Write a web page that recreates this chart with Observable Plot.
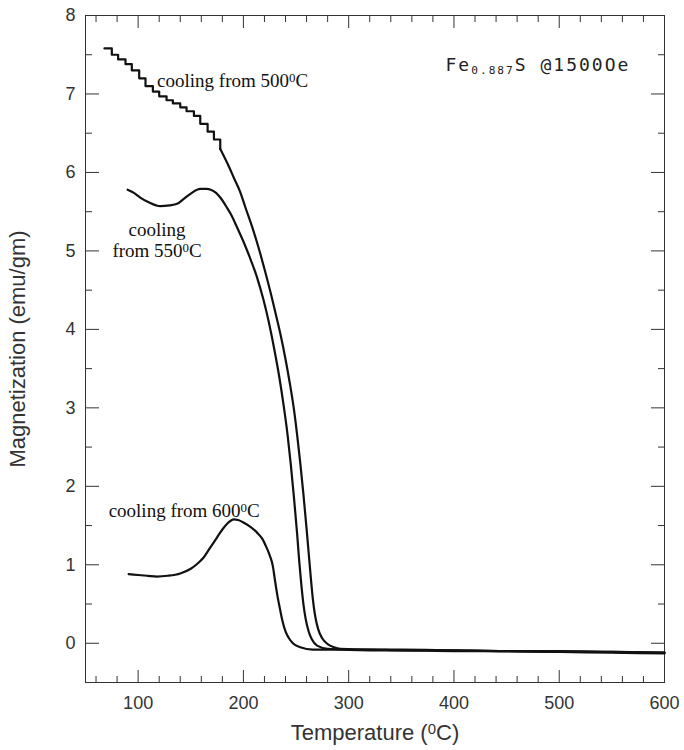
<!DOCTYPE html>
<html><head><meta charset="utf-8">
<script src="https://cdn.jsdelivr.net/npm/d3@7"></script>
<script src="https://cdn.jsdelivr.net/npm/@observablehq/plot@0.6"></script>
<style>html,body{margin:0;padding:0;background:#fff}</style>
</head><body><div id="chart"></div>
<script>
// ---- data ----
// cooling from 500 C : stepped upper section
const temp500Steps = [68,75,81,88,94,101,107,114,120,127,133,140,146,153,159,166,172,178];
const mag500Steps  = [7.58,7.50,7.44,7.38,7.30,7.20,7.10,7.03,6.97,6.92,6.88,6.83,6.78,6.72,6.62,6.52,6.42,6.30];
// cooling from 500 C : smooth lower section
const temp500 = [178,185,191,197,202,208,214,220,226,231,235,240,244,248,251,254,257,260,262,264,266,268,271,275,280,286,292,320,350,400,450,500,550,600];
const mag500  = [6.30,6.11,5.93,5.75,5.55,5.32,5.06,4.77,4.46,4.18,3.95,3.62,3.32,2.98,2.66,2.30,1.90,1.46,1.15,0.84,0.56,0.36,0.18,0.06,-0.01,-0.05,-0.07,-0.08,-0.08,-0.09,-0.10,-0.10,-0.11,-0.12];
// cooling from 550 C
const temp550 = [90,96,102,110,121,130,137,144,150,159,165,169,174,178,184,188,194,200,206,213,219,224,229,234,238,242,245,248,251,253,255,257,259,262,265,270,280,320,350,400,450,500,550,600];
const mag550  = [5.78,5.74,5.68,5.62,5.57,5.58,5.60,5.67,5.73,5.79,5.79,5.78,5.74,5.68,5.56,5.47,5.30,5.12,4.92,4.66,4.38,4.10,3.77,3.40,3.05,2.65,2.28,1.86,1.40,1.05,0.75,0.50,0.32,0.15,0.05,-0.03,-0.07,-0.09,-0.09,-0.10,-0.10,-0.11,-0.12,-0.13];
// cooling from 600 C
const temp600 = [91,100,109,118,128,140,150,156,162,168,175,180,185,191,195,200,207,213,218,221,225,228,230,232,235,237,240,243,247,254,266,290,320,350,400,450,500,550,600];
const mag600  = [0.88,0.87,0.86,0.85,0.86,0.89,0.95,1.01,1.09,1.21,1.35,1.45,1.53,1.58,1.57,1.54,1.48,1.41,1.33,1.25,1.12,0.98,0.80,0.63,0.42,0.29,0.15,0.07,0.00,-0.05,-0.08,-0.08,-0.08,-0.09,-0.09,-0.10,-0.11,-0.11,-0.12];

// annotations
const curveLabels = ["cooling from 500⁰C", "cooling from 600⁰C"];
const curveLabelT = [118, 72];
const curveLabelM = [7.17, 1.69];
const centredLabels = ["cooling", "from 550⁰C"];
const centredLabelT = [118, 118];
const centredLabelM = [5.27, 5.00];
const sampleLabel = ["Fe₀.₈₈₇S @1500Oe"];
const sampleLabelT = [392];
const sampleLabelM = [7.36];

// axes
const xMajorTicks = [100,200,300,400,500,600];
const xMinorTicks = [60,80,120,140,160,180,220,240,260,280,320,340,360,380,420,440,460,480,520,540,560,580];
const yMajorTicks = [0,1,2,3,4,5,6,7,8];
const yMinorTicks = [0.5,1.5,2.5,3.5,4.5,5.5,6.5,7.5];
const xLabel = "Temperature (⁰C)";
const yLabel = "Magnetization (emu/gm)";

// ---- chart ----
const ink = "#111";
const idx = a => Array.from(a, (_, i) => i);
const tickOnly = {tickFormat: () => "", label: null, stroke: "#333"};

const chart = Plot.plot({
  width: 684, height: 750,
  marginLeft: 85, marginRight: 20, marginTop: 15, marginBottom: 68,
  x: {domain: [50, 600]},
  y: {domain: [-0.5, 8]},
  style: {fontFamily: "'Liberation Sans', Arial, sans-serif", fontSize: "18px", color: "#333", background: "#fff", overflow: "visible"},
  marks: [
    Plot.frame({stroke: "#333", strokeWidth: 1}),
    // tick labels + axis titles
    Plot.axisX({ticks: xMajorTicks, anchor: "bottom", tickSize: 0, tickPadding: 14, fontSize: 18, fill: "#333", label: null}),
    Plot.axisX({ticks: [], anchor: "bottom", tickSize: 0, fontSize: 22, fill: "#333",
      label: xLabel, labelAnchor: "center", labelArrow: "none", labelOffset: 57}),
    Plot.axisY({ticks: yMajorTicks, anchor: "left", tickSize: 0, tickPadding: 10, fontSize: 18, fill: "#333", label: null}),
    Plot.axisY({ticks: [], anchor: "left", tickSize: 0, fontSize: 22, fill: "#333",
      label: yLabel, labelAnchor: "center", labelArrow: "none", labelOffset: 76}),
    // inward ticks on all four sides
    Plot.axisX({ticks: xMajorTicks, anchor: "bottom", tickSize: -12, ...tickOnly}),
    Plot.axisX({ticks: xMinorTicks, anchor: "bottom", tickSize: -6, ...tickOnly}),
    Plot.axisX({ticks: xMajorTicks, anchor: "top", tickSize: -12, ...tickOnly}),
    Plot.axisX({ticks: xMinorTicks, anchor: "top", tickSize: -6, ...tickOnly}),
    Plot.axisY({ticks: yMajorTicks, anchor: "left", tickSize: -14, ...tickOnly}),
    Plot.axisY({ticks: yMinorTicks, anchor: "left", tickSize: -7, ...tickOnly}),
    Plot.axisY({ticks: yMajorTicks, anchor: "right", tickSize: -14, ...tickOnly}),
    Plot.axisY({ticks: yMinorTicks, anchor: "right", tickSize: -7, ...tickOnly}),
    // curves
    Plot.line(idx(temp500Steps), {x: temp500Steps, y: mag500Steps, curve: "step-after", stroke: ink, strokeWidth: 2.2}),
    Plot.line(idx(temp500), {x: temp500, y: mag500, curve: "monotone-x", stroke: ink, strokeWidth: 2.2}),
    Plot.line(idx(temp550), {x: temp550, y: mag550, curve: "monotone-x", stroke: ink, strokeWidth: 2.2}),
    Plot.line(idx(temp600), {x: temp600, y: mag600, curve: "monotone-x", stroke: ink, strokeWidth: 2.2}),
    // annotations
    Plot.text(curveLabels, {x: curveLabelT, y: curveLabelM, text: d => d, textAnchor: "start",
      fontFamily: "'Liberation Serif', 'Times New Roman', serif", fontSize: 19, fill: ink}),
    Plot.text(centredLabels, {x: centredLabelT, y: centredLabelM, text: d => d, textAnchor: "middle",
      fontFamily: "'Liberation Serif', 'Times New Roman', serif", fontSize: 19, fill: ink}),
    Plot.text(sampleLabel, {x: sampleLabelT, y: sampleLabelM, text: d => d, textAnchor: "start",
      fontFamily: "'DejaVu Sans Mono', 'Liberation Mono', monospace", fontSize: 18, fill: "#222"})
  ]
});

// turn ⁰ into a raised "0" and subscript digits into lowered digits
function richText(svg) {
  const walker = document.createTreeWalker(svg, NodeFilter.SHOW_TEXT);
  const nodes = [];
  while (walker.nextNode()) nodes.push(walker.currentNode);
  const subMap = {"₀":"0","₁":"1","₂":"2","₃":"3","₄":"4","₅":"5","₆":"6","₇":"7","₈":"8","₉":"9",".":"."};
  const ns = "http://www.w3.org/2000/svg";
  for (const node of nodes) {
    const s = node.nodeValue;
    if (!/[⁰₀-₉]/.test(s)) continue;
    const parent = node.parentNode;
    const parts = s.split(/(⁰+|[₀-₉](?:[.₀-₉]*[₀-₉])?)/);
    const frag = document.createDocumentFragment();
    let hasSub = false;
    for (const p of parts) {
      if (!p) continue;
      if (/^⁰+$/.test(p)) {
        const t = document.createElementNS(ns, "tspan");
        t.setAttribute("baseline-shift", "40%");
        t.setAttribute("font-size", "68%");
        t.textContent = p.replace(/⁰/g, "0");
        frag.appendChild(t);
      } else if (/^[₀-₉]/.test(p)) {
        hasSub = true;
        const t = document.createElementNS(ns, "tspan");
        t.setAttribute("baseline-shift", "-25%");
        t.setAttribute("font-size", "62%");
        t.textContent = Array.from(p, c => subMap[c] ?? c).join("");
        frag.appendChild(t);
      } else {
        frag.appendChild(document.createTextNode(p));
      }
    }
    parent.replaceChild(frag, node);
    if (hasSub) parent.style.letterSpacing = "2px";
  }
}
richText(chart);
document.getElementById("chart").appendChild(chart);
</script>
</body></html>
